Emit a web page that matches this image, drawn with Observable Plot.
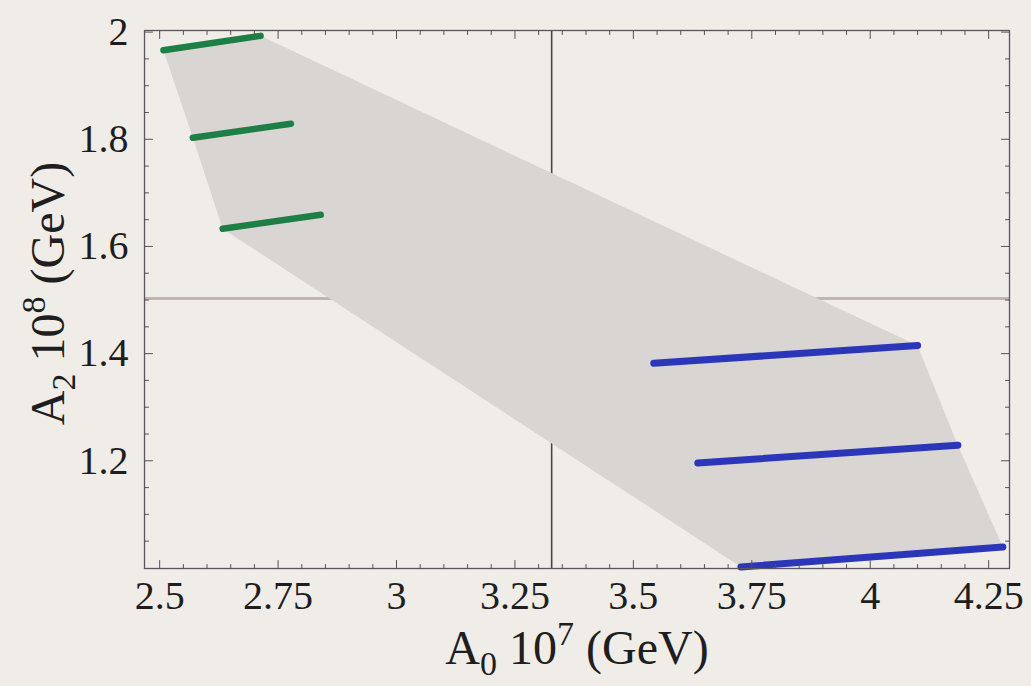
<!DOCTYPE html>
<html><head><meta charset="utf-8">
<script src="https://cdn.jsdelivr.net/npm/d3@7"></script>
<script src="https://cdn.jsdelivr.net/npm/@observablehq/plot@0.6"></script>
<style>
html,body{margin:0;padding:0;background:#f0ede9;}
#chart{width:1031px;height:686px;overflow:hidden;}
</style>
</head><body><div id="chart"></div>
<script>
// ---- data ----
const xDomain = [2.468, 4.294];
const yDomain = [0.999, 2.003];
const xTicks = [2.5, 2.75, 3, 3.25, 3.5, 3.75, 4, 4.25];
const xTickLabels = ["2.5", "2.75", "3", "3.25", "3.5", "3.75", "4", "4.25"];
const yTicks = [1.2, 1.4, 1.6, 1.8, 2];
const yTickLabels = ["1.2", "1.4", "1.6", "1.8", "2"];

// green segments (left group)
const greenX1 = [2.508, 2.570, 2.633];
const greenY1 = [1.966, 1.803, 1.633];
const greenX2 = [2.713, 2.777, 2.840];
const greenY2 = [1.993, 1.829, 1.659];
// blue segments (right group)
const blueX1 = [3.543, 3.636, 3.727];
const blueY1 = [1.382, 1.196, 1.002];
const blueX2 = [4.100, 4.185, 4.280];
const blueY2 = [1.415, 1.229, 1.039];

// shaded allowed region (polygon vertices)
const regionX = [2.508, 2.713, 4.100, 4.185, 4.280, 3.727, 2.633, 2.570];
const regionY = [1.966, 1.993, 1.415, 1.229, 1.039, 1.002, 1.633, 1.803];

// cross-hair reference lines
const crossX = [3.3275];
const crossY = [1.503];

// axis labels (parts: text, kind)
const xLabelParts = [["A", "n"], ["0", "sub"], [" 10", "n"], ["7", "sup"], [" (GeV)", "n"]];
const yLabelParts = [["A", "n"], ["2", "sub"], [" 10", "n"], ["8", "sup"], [" (GeV)", "n"]];

// ---- build tables ----
const green = greenX1.map((x, i) => ({x1: x, y1: greenY1[i], x2: greenX2[i], y2: greenY2[i]}));
const blue = blueX1.map((x, i) => ({x1: x, y1: blueY1[i], x2: blueX2[i], y2: blueY2[i]}));
const region = regionX.map((x, i) => ({px: x, py: regionY[i]}));
const xLabel = xLabelParts.map(p => p[0]).join("");
const yLabel = yLabelParts.map(p => p[0]).join("");

const xMinor = d3.range(2.5, 4.2501, 0.05).filter(v => xTicks.every(t => Math.abs(t - v) > 1e-6));
const yMinor = d3.range(1.05, 2.0001, 0.05).filter(v => yTicks.every(t => Math.abs(t - v) > 1e-6));

const tickShape = {draw(context, l) { context.moveTo(0, 0); context.lineTo(0, -l); }};
const tickColor = "#55505a";
function frameTicks(xs, ys, len) {
  return [
    Plot.vector(xs, {x: d => d, y: yDomain[0], length: len, rotate: 0, anchor: "start", shape: tickShape, stroke: tickColor, strokeWidth: 1}),
    Plot.vector(xs, {x: d => d, y: yDomain[1], length: len, rotate: 180, anchor: "start", shape: tickShape, stroke: tickColor, strokeWidth: 1}),
    Plot.vector(ys, {x: xDomain[0], y: d => d, length: len, rotate: 90, anchor: "start", shape: tickShape, stroke: tickColor, strokeWidth: 1}),
    Plot.vector(ys, {x: xDomain[1], y: d => d, length: len, rotate: 270, anchor: "start", shape: tickShape, stroke: tickColor, strokeWidth: 1})
  ];
}

const chart = Plot.plot({
  width: 1031,
  height: 686,
  marginLeft: 144,
  marginRight: 22,
  marginTop: 30,
  marginBottom: 118,
  style: {background: "#f0ede9", fontFamily: "'Liberation Serif', 'DejaVu Serif', serif", color: "#1e1e1e"},
  x: {domain: xDomain, axis: null},
  y: {domain: yDomain, axis: null},
  marks: [
    Plot.ruleX(crossX, {stroke: "#474447", strokeWidth: 1.6}),
    Plot.ruleY(crossY, {stroke: "#c2b4b4", strokeWidth: 3}),
    Plot.line(region, {x: "px", y: "py", fill: "#d9d5d3", stroke: "none"}),
    Plot.link(green, {x1: "x1", y1: "y1", x2: "x2", y2: "y2", stroke: "#1d7f46", strokeWidth: 6.5, strokeLinecap: "round"}),
    Plot.link(blue, {x1: "x1", y1: "y1", x2: "x2", y2: "y2", stroke: "#2b36b8", strokeWidth: 7, strokeLinecap: "round"}),
    Plot.frame({stroke: "#5a5560", strokeWidth: 1.3}),
    ...frameTicks(xMinor, yMinor, 4),
    ...frameTicks(xTicks, yTicks, 8),
    Plot.axisX(xTicks, {anchor: "bottom", tickSize: 0, tickPadding: 12, fontSize: 40, label: null,
      tickFormat: d => xTickLabels[xTicks.indexOf(d)], fill: "#1e1e1e"}),
    Plot.axisY(yTicks, {anchor: "left", tickSize: 0, tickPadding: 16, fontSize: 40, label: null,
      tickFormat: d => yTickLabels[yTicks.indexOf(d)], fill: "#1e1e1e"}),
    Plot.text([xLabel], {frameAnchor: "bottom", dy: 95, fontSize: 48, fill: "#1e1e1e", textAnchor: "middle"}),
    Plot.text([yLabel], {frameAnchor: "left", dx: -96, dy: -6, rotate: -90, fontSize: 48, fill: "#1e1e1e", textAnchor: "middle"})
  ]
});

// rich text for the axis labels (sub/superscripts)
function richify(svg, plain, parts) {
  svg.querySelectorAll("text").forEach(t => {
    if (t.textContent !== plain) return;
    t.textContent = "";
    t.setAttribute("style", (t.getAttribute("style") || "") + ";white-space:pre");
    let shift = 0;
    parts.forEach(([s, kind]) => {
      const ts = document.createElementNS("http://www.w3.org/2000/svg", "tspan");
      const target = kind === "sub" ? 11 : kind === "sup" ? -19 : 0;
      if (target - shift !== 0) ts.setAttribute("dy", target - shift);
      shift = target;
      if (kind !== "n") ts.setAttribute("font-size", 34);
      ts.textContent = s;
      t.appendChild(ts);
    });
  });
}
richify(chart, xLabel, xLabelParts);
richify(chart, yLabel, yLabelParts);

document.getElementById("chart").appendChild(chart);
</script>
</body></html>
